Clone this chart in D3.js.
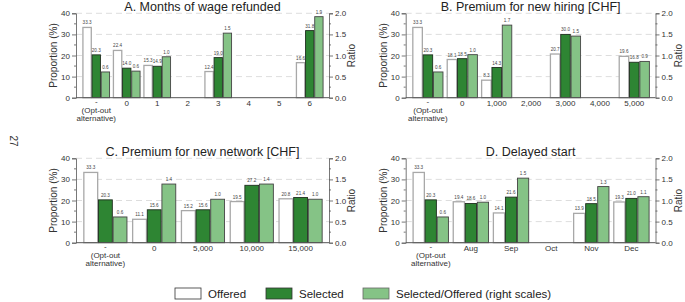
<!DOCTYPE html>
<html><head><meta charset="utf-8">
<script src="https://cdn.jsdelivr.net/npm/d3@7"></script>
<style>
body{margin:0;background:#fff;}
svg{font-family:"Liberation Sans",Arial,sans-serif;}
</style></head>
<body><svg id="c" width="685" height="302"></svg>
<script>
const catsA = ["-","0","1","2","3","4","5","6"];
const offeredA = [33.3,22.4,15.3,null,12.4,null,null,16.6];
const selectedA = [20.3,14.0,14.9,null,19.0,null,null,31.8];
const ratioA = [0.61,0.63,0.97,null,1.53,null,null,1.92];

const catsB = ["-","0","1,000","2,000","3,000","4,000","5,000"];
const offeredB = [33.3,18.1,8.3,null,20.7,null,19.6];
const selectedB = [20.3,18.5,14.3,null,30.0,null,16.8];
const ratioB = [0.61,1.02,1.72,null,1.46,null,0.86];

const catsC = ["-","0","5,000","10,000","15,000"];
const offeredC = [33.3,11.1,15.2,19.5,20.8];
const selectedC = [20.3,15.6,15.6,27.2,21.4];
const ratioC = [0.61,1.39,1.03,1.39,1.03];

const catsD = ["-","Aug","Sep","Oct","Nov","Dec"];
const offeredD = [33.3,19.4,14.1,null,13.9,19.3];
const selectedD = [20.3,18.6,21.6,null,18.5,21.0];
const ratioD = [0.61,0.96,1.53,null,1.33,1.09];

const titles = ["A. Months of wage refunded","B. Premium for new hiring [CHF]","C. Premium for new network [CHF]","D. Delayed start"];
const leftTicks = [0,10,20,30,40];
const rightTicks = [0,0.5,1.0,1.5,2.0];
const legendLabels = ["Offered","Selected","Selected/Offered (right scales)"];

const colOff = "#ffffff", colSel = "#2e8533", colRat = "#85c386";
const svg = d3.select("#c");

const panels = [
 {cats:catsA, off:offeredA, sel:selectedA, rat:ratioA, L:76, R:329, T:13.3, B:97.7, title:titles[0]},
 {cats:catsB, off:offeredB, sel:selectedB, rat:ratioB, L:405.7, R:655.5, T:13.3, B:97.7, title:titles[1]},
 {cats:catsC, off:offeredC, sel:selectedC, rat:ratioC, L:76, R:329, T:158.3, B:242.7, title:titles[2]},
 {cats:catsD, off:offeredD, sel:selectedD, rat:ratioD, L:405.7, R:655.5, T:158.3, B:242.7, title:titles[3]},
];

panels.forEach(p=>{
  const g = svg.append("g");
  const y = d3.scaleLinear().domain([0,40]).range([p.B,p.T]);
  const yr = d3.scaleLinear().domain([0,2]).range([p.B,p.T]);
  const x0 = d3.scaleBand().domain(p.cats).range([p.L+5,p.R-4]).paddingInner(0.1).paddingOuter(0.05);
  const keys = ["off","sel","rat"];
  const x1 = d3.scaleBand().domain(keys).range([0,x0.bandwidth()]);

  // grid
  g.selectAll(".grid").data(leftTicks.slice(1)).enter().append("line")
    .attr("x1",p.L).attr("x2",p.R).attr("y1",d=>y(d)).attr("y2",d=>y(d))
    .attr("stroke","#d4d4d4").attr("stroke-width",0.8).attr("stroke-dasharray","6,4");

  // title
  g.append("text").attr("x",(p.L+p.R)/2).attr("y",p.T-2.5).attr("text-anchor","middle")
    .attr("font-size",12.5).attr("fill","#222").text(p.title);

  // left axis
  const la = d3.axisLeft(y).tickValues(leftTicks).tickSize(4).tickPadding(2).tickFormat(d3.format("d"));
  const lg = g.append("g").attr("transform",`translate(${p.L},0)`).call(la);
  lg.select(".domain").attr("stroke","#555").attr("stroke-width",0.8);
  lg.selectAll(".tick line").attr("stroke","#555").attr("stroke-width",0.8);
  lg.selectAll("text").attr("font-size",8).attr("fill","#333").attr("font-family","Liberation Sans, Arial, sans-serif");
  g.selectAll(".lminor").data([5,15,25,35]).enter().append("line")
    .attr("x1",p.L-2).attr("x2",p.L).attr("y1",d=>y(d)).attr("y2",d=>y(d)).attr("stroke","#555").attr("stroke-width",0.8);

  // right axis
  const ra = d3.axisRight(yr).tickValues(rightTicks).tickSize(4).tickPadding(2).tickFormat(d3.format(".1f"));
  const rg = g.append("g").attr("transform",`translate(${p.R},0)`).call(ra);
  rg.select(".domain").attr("stroke","#555").attr("stroke-width",0.8);
  rg.selectAll(".tick line").attr("stroke","#555").attr("stroke-width",0.8);
  rg.selectAll("text").attr("font-size",8).attr("fill","#333").attr("font-family","Liberation Sans, Arial, sans-serif");
  g.selectAll(".rminor").data([0.25,0.75,1.25,1.75]).enter().append("line")
    .attr("x1",p.R).attr("x2",p.R+2).attr("y1",d=>yr(d)).attr("y2",d=>yr(d)).attr("stroke","#555").attr("stroke-width",0.8);

  // axis titles
  g.append("text").attr("transform",`translate(${p.L-19},${(p.T+p.B)/2}) rotate(-90)`)
    .attr("text-anchor","middle").attr("font-size",10).attr("fill","#333").text("Proportion (%)");
  g.append("text").attr("transform",`translate(${p.R+26},${(p.T+p.B)/2}) rotate(-90)`)
    .attr("text-anchor","middle").attr("font-size",10).attr("fill","#333").text("Ratio");

  // bars
  const rows = p.cats.map((c,i)=>({c, off:p.off[i], sel:p.sel[i], rat:p.rat[i]}));
  const grp = g.selectAll(".grp").data(rows).enter().append("g")
    .attr("transform",d=>`translate(${x0(d.c)},0)`);
  const bw = x1.bandwidth();
  const items = d=>keys.filter(k=>d[k]!=null).map(k=>({k, v:d[k]}));
  const yy = d=> d.k==="rat" ? yr(d.v) : y(d.v);
  grp.selectAll("rect").data(items).enter().append("rect")
    .attr("x",d=>x1(d.k)+0.4).attr("width",bw-0.8)
    .attr("y",d=>yy(d)).attr("height",d=>p.B-yy(d))
    .attr("fill",d=>d.k==="off"?colOff:d.k==="sel"?colSel:colRat)
    .attr("stroke",d=>d.k==="off"?"#a8a8a8":d.k==="sel"?"#1e2e1e":"#444")
    .attr("stroke-width",d=>d.k==="off"?1.3:0.9);
  grp.selectAll("text.v").data(items).enter().append("text")
    .attr("x",d=>x1(d.k)+bw/2).attr("y",d=>yy(d)-3)
    .attr("text-anchor","middle").attr("font-size",4.6).attr("fill","#444")
    .text(d=>d3.format(".1f")(d.v));

  // x axis line
  g.append("line").attr("x1",p.L).attr("x2",p.R).attr("y1",p.B).attr("y2",p.B)
    .attr("stroke","#555").attr("stroke-width",1);

  // x labels
  const xl = g.selectAll(".xl").data(p.cats).enter().append("text")
    .attr("x",d=>x0(d)+x0.bandwidth()/2).attr("y",p.B+8.5)
    .attr("text-anchor","middle").attr("font-size",8).attr("fill","#333");
  xl.each(function(d){
    const t=d3.select(this);
    if(d==="-"){
      t.append("tspan").attr("x",x0(d)+x0.bandwidth()/2).attr("dy",-2).text("-");
      t.append("tspan").attr("x",x0(d)+x0.bandwidth()/2).attr("dy",8.5).text("(Opt-out");
      t.append("tspan").attr("x",x0(d)+x0.bandwidth()/2).attr("dy",8).text("alternative)");
    } else t.text(d);
  });
});

// page number
svg.append("text").attr("transform","translate(10,141) rotate(90)").attr("text-anchor","middle")
  .attr("font-size",10).attr("fill","#333").text("27");

// legend
const lx = [175,266,363];
const lfill=[colOff,colSel,colRat], lstroke=["#333","#333","#666"];
legendLabels.forEach((t,i)=>{
  svg.append("rect").attr("x",lx[i]).attr("y",288).attr("width",26).attr("height",11)
    .attr("fill",lfill[i]).attr("stroke",lstroke[i]).attr("stroke-width",0.8);
  svg.append("text").attr("x",lx[i]+33).attr("y",298).attr("font-size",11.5).attr("fill","#222").text(t);
});
</script></body></html>
